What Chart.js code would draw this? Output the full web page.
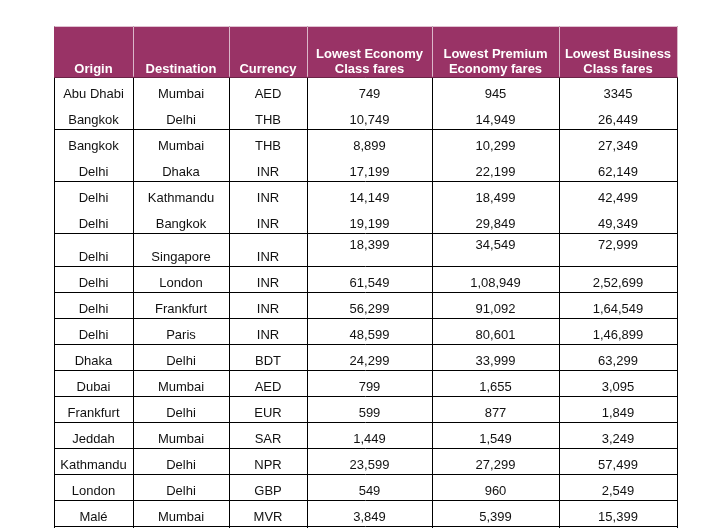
<!DOCTYPE html>
<html>
<head>
<meta charset="utf-8">
<script src="https://cdn.jsdelivr.net/npm/chart.js@4.4.0/dist/chart.umd.min.js"></script>
<style>
  html, body { margin: 0; padding: 0; background: #fff; }
  #wrap { width: 713px; height: 528px; }
</style>
</head>
<body>
<div id="wrap"><canvas id="fareTable" width="713" height="528"></canvas></div>
<script>
// column headings (one entry per line)
var headers = [
    ['Origin'],
    ['Destination'],
    ['Currency'],
    ['Lowest Economy', 'Class fares'],
    ['Lowest Premium', 'Economy fares'],
    ['Lowest Business', 'Class fares']
];

var origins = ['Abu Dhabi', 'Bangkok', 'Bangkok', 'Delhi', 'Delhi', 'Delhi', 'Delhi', 'Delhi', 'Delhi',
    'Delhi', 'Dhaka', 'Dubai', 'Frankfurt', 'Jeddah', 'Kathmandu', 'London', 'Malé'];
var destinations = ['Mumbai', 'Delhi', 'Mumbai', 'Dhaka', 'Kathmandu', 'Bangkok', 'Singapore', 'London',
    'Frankfurt', 'Paris', 'Delhi', 'Mumbai', 'Delhi', 'Mumbai', 'Delhi', 'Delhi', 'Mumbai'];
var currencies = ['AED', 'THB', 'THB', 'INR', 'INR', 'INR', 'INR', 'INR', 'INR', 'INR', 'BDT', 'AED',
    'EUR', 'SAR', 'NPR', 'GBP', 'MVR'];

// fares kept as printed (indian digit grouping)
var economyFares = ['749', '10,749', '8,899', '17,199', '14,149', '19,199', '18,399', '61,549', '56,299',
    '48,599', '24,299', '799', '599', '1,449', '23,599', '549', '3,849'];
var premiumFares = ['945', '14,949', '10,299', '22,199', '18,499', '29,849', '34,549', '1,08,949', '91,092',
    '80,601', '33,999', '1,655', '877', '1,549', '27,299', '960', '5,399'];
var businessFares = ['3345', '26,449', '27,349', '62,149', '42,499', '49,349', '72,999', '2,52,699', '1,64,549',
    '1,46,899', '63,299', '3,095', '1,849', '3,249', '57,499', '2,549', '15,399'];

var columns = [origins, destinations, currencies, economyFares, premiumFares, businessFares];

// layout
var colWidths = [79, 96, 78, 125, 127, 118];
var headerHeight = 51;
var tallRows = [6];          // Singapore row is taller
var noLineAfter = [0, 2, 4]; // rows printed in pairs without a rule
var rowHeights = origins.map(function (o, i) { return tallRows.indexOf(i) >= 0 ? 32.5 : 26; });
var headerColor = '#993366';
var bodyFont = '13px "Liberation Sans", Arial, sans-serif';
var headFont = 'bold 13px "Liberation Sans", Arial, sans-serif';

var colEdges = [0];
colWidths.forEach(function (w, i) { colEdges.push(colEdges[i] + w); });
var rowEdges = [0];
rowHeights.forEach(function (h, i) { rowEdges.push(rowEdges[i] + h); });
var tableWidth = colEdges[colEdges.length - 1];
var tableHeight = rowEdges[rowEdges.length - 1];

var hLines = [0];
for (var r = 0; r < origins.length; r++) {
    if (noLineAfter.indexOf(r) < 0) hLines.push(rowEdges[r + 1]);
}

var datasets = columns.map(function (col, c) {
    return {
        label: headers[c].join(' '),
        data: col.map(function (v, r) {
            return { x: colEdges[c] + colWidths[c] / 2, y: rowEdges[r] + rowHeights[r] / 2 };
        }),
        pointRadius: 0,
        pointHoverRadius: 0
    };
});

var tablePlugin = {
    id: 'tablePlugin',
    beforeDatasetsDraw: function (chart) {
        var ctx = chart.ctx, xs = chart.scales.x, ys = chart.scales.y;
        var left = xs.getPixelForValue(0), right = xs.getPixelForValue(tableWidth);
        var top = ys.getPixelForValue(-headerHeight), bottom = ys.getPixelForValue(0);
        ctx.save();
        ctx.fillStyle = headerColor;
        ctx.fillRect(left, top, right - left + 1, bottom - top);
        // light separators inside the heading band
        ctx.strokeStyle = 'rgba(255,255,255,0.65)';
        ctx.lineWidth = 1;
        for (var i = 1; i < colEdges.length; i++) {
            var px = Math.round(xs.getPixelForValue(colEdges[i])) + 0.5;
            ctx.beginPath();
            ctx.moveTo(px, top);
            ctx.lineTo(px, bottom - 1);
            ctx.stroke();
        }
        // heading text, bottom aligned
        ctx.fillStyle = '#ffffff';
        ctx.font = headFont;
        ctx.textAlign = 'center';
        ctx.textBaseline = 'alphabetic';
        headers.forEach(function (lines, c) {
            var cx = xs.getPixelForValue(colEdges[c] + colWidths[c] / 2);
            for (var k = 0; k < lines.length; k++) {
                var fromBottom = lines.length - 1 - k;
                ctx.fillText(lines[k], cx, bottom - 5 - fromBottom * 15);
            }
        });
        ctx.restore();
    },
    afterDatasetsDraw: function (chart) {
        var ctx = chart.ctx, ys = chart.scales.y;
        ctx.save();
        ctx.fillStyle = '#111111';
        ctx.font = bodyFont;
        ctx.textAlign = 'center';
        ctx.textBaseline = 'alphabetic';
        chart.data.datasets.forEach(function (ds, c) {
            var meta = chart.getDatasetMeta(c);
            meta.data.forEach(function (pt, r) {
                var rowTop = ys.getPixelForValue(rowEdges[r]);
                var rowBottom = ys.getPixelForValue(rowEdges[r + 1]);
                var y = rowBottom - 5.5;
                if (tallRows.indexOf(r) >= 0 && c >= 3) y = rowTop + 15;
                ctx.fillText(columns[c][r], pt.x, y);
            });
        });
        ctx.restore();
    }
};

var chart = new Chart(document.getElementById('fareTable').getContext('2d'), {
    type: 'scatter',
    data: { datasets: datasets },
    options: {
        responsive: false,
        animation: false,
        events: [],
        layout: { padding: { left: 54, right: 36, top: 26.7, bottom: 0 } },
        plugins: { legend: { display: false }, tooltip: { enabled: false } },
        scales: {
            x: {
                type: 'linear',
                min: 0,
                max: tableWidth,
                border: { display: false },
                grid: { color: '#000000', lineWidth: 1, drawTicks: false },
                ticks: { display: false },
                afterBuildTicks: function (scale) {
                    scale.ticks = colEdges.map(function (v) { return { value: v }; });
                }
            },
            y: {
                type: 'linear',
                reverse: true,
                min: -headerHeight,
                max: tableHeight + 1.8,
                border: { display: false },
                grid: { color: '#000000', lineWidth: 1, drawTicks: false },
                ticks: { display: false },
                afterBuildTicks: function (scale) {
                    scale.ticks = hLines.map(function (v) { return { value: v }; });
                }
            }
        }
    },
    plugins: [tablePlugin]
});
</script>
</body>
</html>
